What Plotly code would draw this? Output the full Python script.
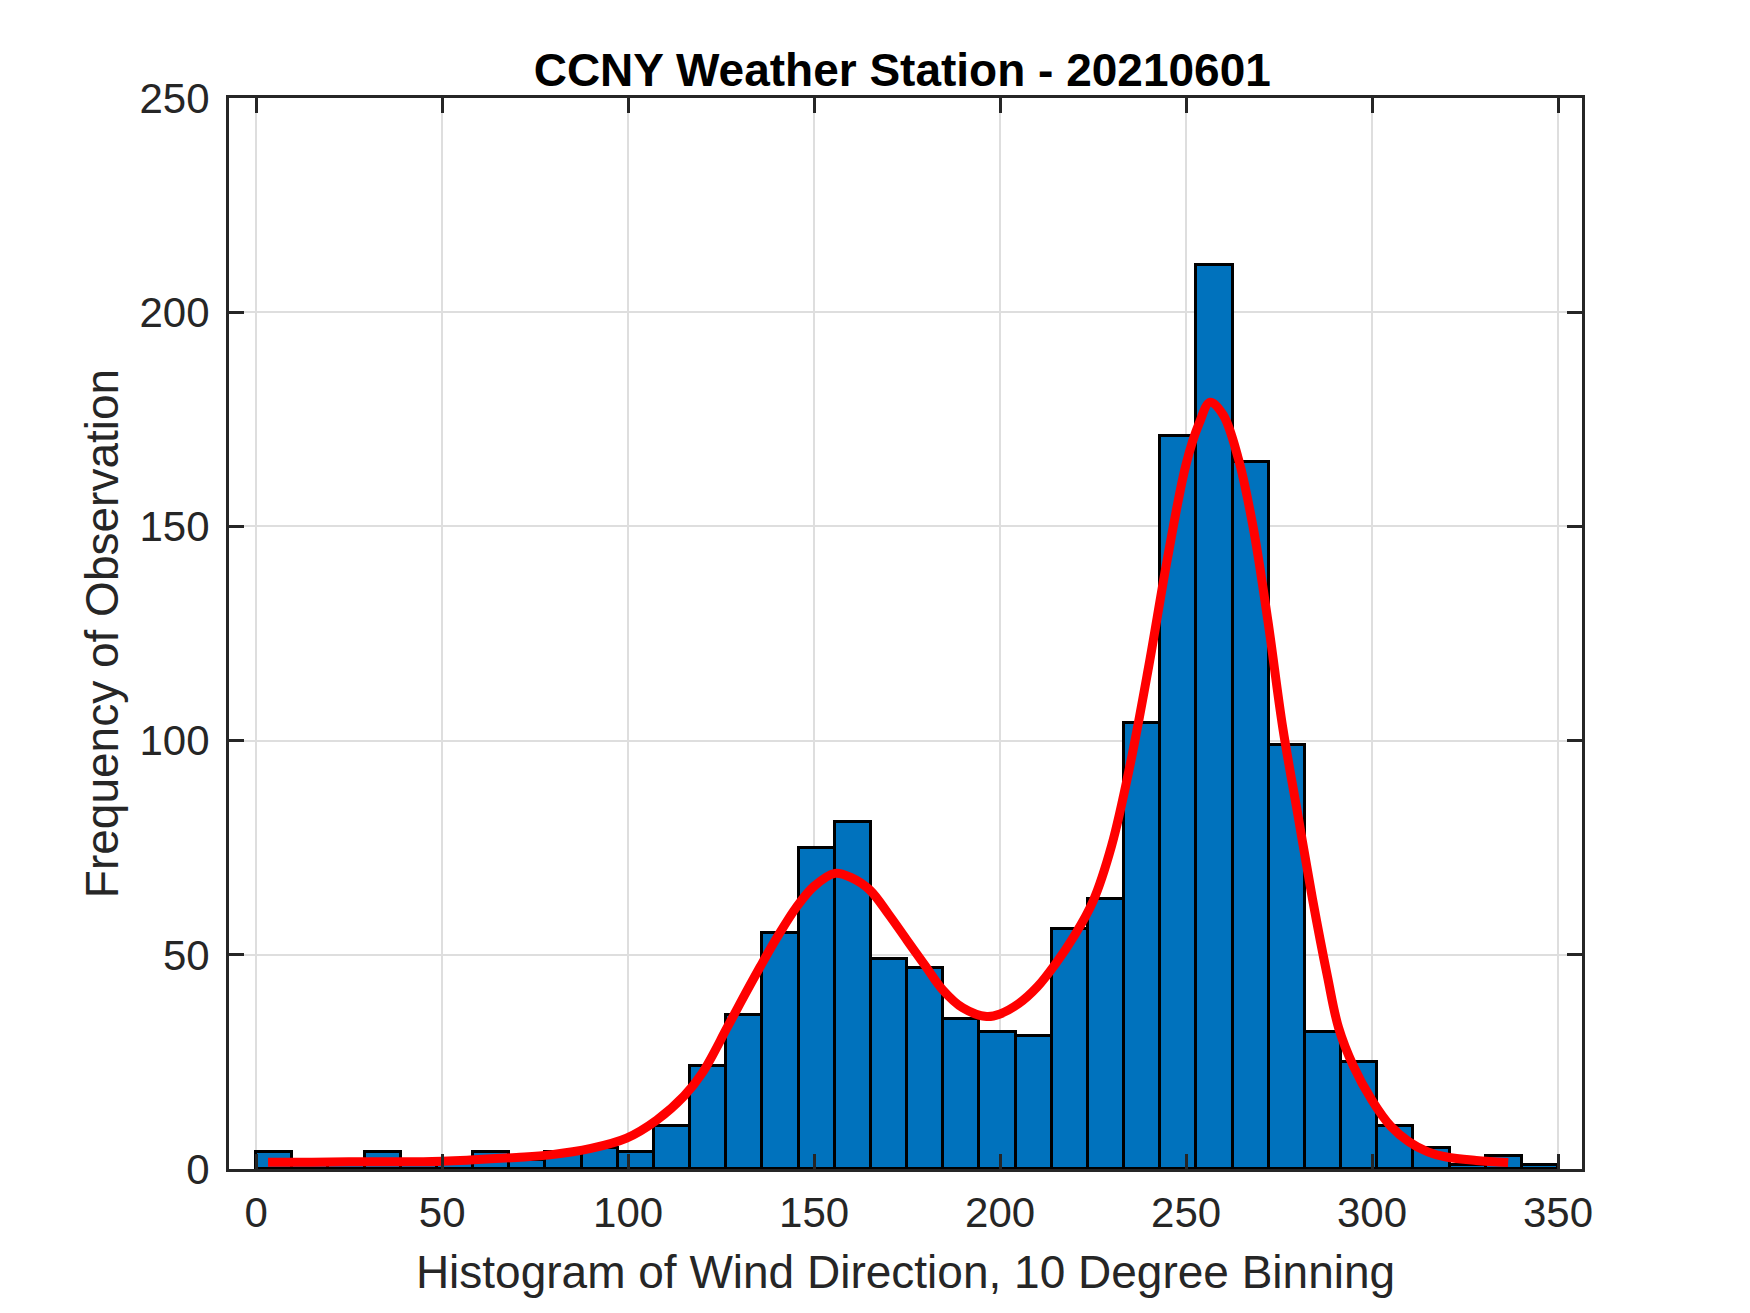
import numpy as np
import plotly.graph_objects as go

# ---- data ----
hist_range = [0, 350]
counts = [4, 1, 1, 4, 1, 2, 4, 2, 4, 5, 4, 10, 24, 36, 55, 75, 81, 49, 47, 35,
          32, 31, 56, 63, 104, 171, 211, 165, 99, 32, 25, 10, 5, 1, 3, 1]

fit_x = [3.2, 15, 30, 45, 57.5, 70, 79, 90, 99.6, 107.7, 115, 120, 126.5, 130,
         135.5, 140, 145.3, 150, 155.6, 160, 165, 170, 174.9, 180, 184.6, 190,
         196.4, 200, 205, 210, 215, 220, 225, 230, 235, 240, 245, 250, 253.5,
         256.5, 260, 264, 268, 272, 276, 280, 284, 288, 291, 295, 300, 305, 310,
         315, 320, 328, 336.6]
fit_y = [1.6, 1.6, 1.7, 1.7, 2.1, 2.7, 3.3, 4.8, 7.2, 11.4, 17, 22.5, 32.8, 38.5,
         47.2, 54, 61.2, 66, 69, 68, 65.1, 59.5, 53.5, 47.3, 41.8, 37.6,
         35.6, 36.2, 38.6, 42.5, 48, 54.5, 62.5, 75.5, 94.5, 117.5, 142.5, 164.5, 174,
         179, 176, 166, 150, 128, 103, 83, 63, 45, 33, 24, 16, 10, 6.3,
         4, 2.8, 2, 1.5]

title_text = "CCNY Weather Station - 20210601"
x_label = "Histogram of Wind Direction, 10 Degree Binning"
y_label = "Frequency of Observation"
x_ticks = [0, 50, 100, 150, 200, 250, 300, 350]
y_ticks = [0, 50, 100, 150, 200, 250]

# ---- build ----
edges = np.linspace(hist_range[0], hist_range[1], len(counts) + 1)
centers = (edges[:-1] + edges[1:]) / 2
widths = np.diff(edges)

FONT = "Liberation Sans, Arial, Helvetica, sans-serif"
AX = "#262626"

fig = go.Figure()
fig.add_trace(go.Bar(
    x=centers, y=counts, width=widths,
    marker=dict(color="#0072BD", line=dict(color="black", width=3)),
    showlegend=False, hoverinfo="x+y",
))
fig.add_trace(go.Scatter(
    x=fit_x, y=fit_y, mode="lines",
    line=dict(color="#FF0000", width=9, shape="spline", smoothing=1.0),
    showlegend=False,
))

axis_common = dict(
    showline=True, linecolor=AX, linewidth=3, mirror="ticks",
    ticks="inside", ticklen=15, tickwidth=3, tickcolor=AX,
    showgrid=True, gridcolor="#DEDEDE", gridwidth=2,
    zeroline=False,
    tickfont=dict(family=FONT, size=42, color=AX),
    title_font=dict(family=FONT, size=46, color=AX),
)

fig.update_xaxes(
    range=[-7.3, 356.45], tickvals=x_ticks, ticktext=[str(v) for v in x_ticks],
    title_text=x_label, title_standoff=21, ticklabelstandoff=5,
    **axis_common,
)
fig.update_yaxes(
    range=[0, 250], tickvals=y_ticks, ticktext=[str(v) for v in y_ticks],
    title_text=y_label, title_standoff=7, ticklabelstandoff=8,
    **axis_common,
)

fig.update_layout(
    width=1750, height=1313, autosize=False,
    margin=dict(l=221, r=176, t=90, b=152, pad=0),
    paper_bgcolor="white", plot_bgcolor="white",
    bargap=0,
    title=dict(text="<b>" + title_text + "</b>", x=0.511, xanchor="center",
               y=1 - 62 / 1313, yanchor="middle",
               font=dict(family=FONT, size=46, color="black")),
)

fig.write_html("out.html")
